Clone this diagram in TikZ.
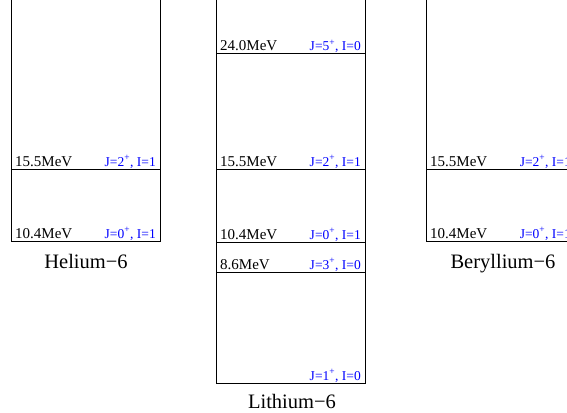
\documentclass[tikz,border=0pt]{standalone}
\usepackage{fontspec}
\setmainfont{Liberation Serif}
\tikzset{
	frame/.style={
		draw,
		line width = 1pt
	},
	energy/.style={
		anchor = base west,
		inner sep = 0pt,
		font = \fontsize{15}{15}\selectfont
	},
	spin/.style={
		anchor = base east,
		inner sep = 0pt,
		text = blue,
		font = \fontsize{13.5}{14}\selectfont
	},
	nucleus/.style={
		anchor = base,
		inner sep = 0pt,
		font = \fontsize{20.5}{21}\selectfont
	},
}
\newcommand{\Jp}[2]{J=#1\textsuperscript{+}, I=#2}

\begin{document}
\begin{tikzpicture}[x=1pt, y=-1pt]
    \clip (0,0) rectangle (567,412);
    % Helium-6
    \draw[frame] (11,0) -- (11,241) -- (160,241) -- (160,0);
    \foreach \y/\e/\s in {169/15.5MeV/{\Jp{2}{1}}, 241/10.4MeV/{\Jp{0}{1}}}{
      \draw[frame] (11,\y) -- (160,\y);
      \node[energy] at (15,\y-3) {\e};
      \node[spin] at (156,\y-3) {\s};
    }
    \node[nucleus] (he) at (86,268) {Helium−6};
    % Lithium-6
    \draw[frame] (216,0) -- (216,383) -- (365,383) -- (365,0);
    \foreach \y/\e/\s in {54/24.0MeV/{\Jp{5}{0}}, 169/15.5MeV/{\Jp{2}{1}},
        242/10.4MeV/{\Jp{0}{1}}, 272/8.6MeV/{\Jp{3}{0}}, 383//{\Jp{1}{0}}}{
      \draw[frame] (216,\y) -- (365,\y);
      \node[energy] at (220,\y-3) {\e};
      \node[spin] at (361,\y-3) {\s};
    }
    \node[nucleus] (li) at (292,408) {Lithium−6};
    % Beryllium-6
    \draw[frame] (426,0) -- (426,241) -- (575,241) -- (575,0);
    \foreach \y/\e/\s in {169/15.5MeV/{\Jp{2}{1}}, 241/10.4MeV/{\Jp{0}{1}}}{
      \draw[frame] (426,\y) -- (575,\y);
      \node[energy] at (430,\y-3) {\e};
      \node[spin] at (571,\y-3) {\s};
    }
    \node[nucleus] (be) at (503,268) {Beryllium−6};
  \end{tikzpicture}
\end{document}
